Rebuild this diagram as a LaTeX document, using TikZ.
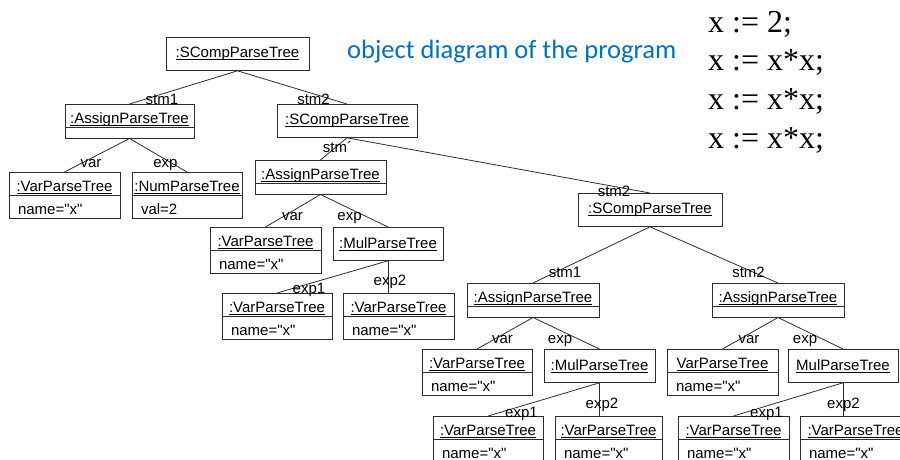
\documentclass[tikz,border=0pt]{standalone}
\usepackage{fontspec}
\usetikzlibrary{shapes.multipart}
\newfontfamily\umlfont{Liberation Sans}
\newfontfamily\notefont{Carlito}
\newfontfamily\codefont{Liberation Serif}
\definecolor{notblue}{RGB}{0,112,192}
\definecolor{umlline}{RGB}{45,45,45}
\newcommand{\objname}[1]{\setbox0\hbox{#1}\rlap{\rule[-1.8pt]{\wd0}{0.6pt}}\box0}
\newcommand{\hdstrut}{\rule[-3pt]{0pt}{22pt}}
\tikzset{
  obj/.style={draw=umlline,line width=0.8pt,inner xsep=2pt,inner ysep=0pt,minimum width=#1,anchor=north,font=\umlfont\fontsize{15}{18}\selectfont},
  objone/.style={obj=#1,minimum height=33pt},
  objtwo/.style={obj=#1,rectangle split,rectangle split parts=2,rectangle split part align={center,left},
    rectangle split empty part height=10pt,rectangle split empty part depth=0pt},
  lnk/.style={draw=umlline,line width=0.8pt},
  rl/.style={font=\umlfont\fontsize{15}{18}\selectfont,inner sep=0pt,anchor=base,pos=1},
  code/.style={font=\codefont\fontsize{32}{38}\selectfont,inner sep=0pt,anchor=base west}
}

\begin{document}
\begin{tikzpicture}[x=1pt,y=-1pt]
  \useasboundingbox (0,0) rectangle (900,459);
  \clip (0,0) rectangle (900,459);
  % caption and program
  \node[anchor=base west,inner sep=0pt,text=notblue,font=\notefont\fontsize{26.5}{30}\selectfont] (caption) at (347,58) {object diagram of the program};
  \node[code] (prog0) at (708,32) {x := 2;};
  \foreach \i in {1,2,3}
    \node[code] (prog\i) at (708,32+38.7*\i) {x := x*x;};

  % objects
  \node[objone=143pt] (root) at (237.5,37) {\objname{:SCompParseTree}};
  \node[objtwo=129pt] (a1) at (129.5,104) {\hdstrut\objname{:AssignParseTree}};
  \node[objone=140pt] (s2) at (347,104) {\objname{:SCompParseTree}};
  \node[objtwo=111pt] (v1) at (64.5,172) {\hdstrut\objname{:VarParseTree}\nodepart{two}\hdstrut\hspace{7pt}name="x"};
  \node[objtwo=110pt] (n1) at (187,172) {\hdstrut\objname{:NumParseTree}\nodepart{two}\hdstrut\hspace{7pt}val=2};
  \node[objtwo=131pt] (a2) at (320.5,160) {\hdstrut\objname{:AssignParseTree}};
  \node[objtwo=111pt] (v2) at (265.5,227) {\hdstrut\objname{:VarParseTree}\nodepart{two}\hdstrut\hspace{7pt}name="x"};
  \node[objone=110pt] (m1) at (388,227) {\objname{:MulParseTree}};
  \node[objtwo=110pt] (v3) at (277,293) {\hdstrut\objname{:VarParseTree}\nodepart{two}\hdstrut\hspace{7pt}name="x"};
  \node[objtwo=111pt] (v4) at (398.5,293) {\hdstrut\objname{:VarParseTree}\nodepart{two}\hdstrut\hspace{7pt}name="x"};
  \node[objone=144pt] (s3) at (650,193) {\objname{:SCompParseTree}};
  \node[objtwo=132pt] (a3) at (533,283) {\hdstrut\objname{:AssignParseTree}};
  \node[objtwo=132pt] (a4) at (778,283) {\hdstrut\objname{:AssignParseTree}};
  \node[objtwo=110pt] (v5) at (477,349) {\hdstrut\objname{:VarParseTree}\nodepart{two}\hdstrut\hspace{7pt}name="x"};
  \node[objone=111pt] (m2) at (599.5,349) {\objname{:MulParseTree}};
  \node[objtwo=111pt] (v6) at (722.5,349) {\hdstrut\objname{VarParseTree}\nodepart{two}\hdstrut\hspace{7pt}name="x"};
  \node[objone=110pt] (m3) at (843,349) {\objname{MulParseTree}};
  \node[objtwo=110pt] (v7) at (488,416) {\hdstrut\objname{:VarParseTree}\nodepart{two}\hdstrut\hspace{7pt}name="x"};
  \node[objtwo=107pt] (v8) at (608.5,416) {\hdstrut\objname{:VarParseTree}\nodepart{two}\hdstrut\hspace{7pt}name="x"};
  \node[objtwo=111pt] (v9) at (733.5,416) {\hdstrut\objname{:VarParseTree}\nodepart{two}\hdstrut\hspace{7pt}name="x"};
  \node[objtwo=111pt] (v10) at (855.5,416) {\hdstrut\objname{:VarParseTree}\nodepart{two}\hdstrut\hspace{7pt}name="x"};

  % links
  \draw[lnk] (root.south) -- node[rl,xshift=32.5pt] {stm1} (a1.north);
  \draw[lnk] (root.south) -- node[rl,xshift=-33.5pt] {stm2} (s2.north);
  \draw[lnk] (a1.south) -- node[rl,xshift=26.5pt,yshift=5pt] {var} (v1.north);
  \draw[lnk] (a1.south) -- node[rl,xshift=-21.5pt,yshift=5pt] {exp} (n1.north);
  \draw[lnk] (s2.south) -- node[rl,xshift=17pt,yshift=8pt] {stm´} (a2.north);
  \draw[lnk] (s2.south) -- node[rl,xshift=-36pt,yshift=-3pt] {stm2} (s3.north);
  \draw[lnk] (a2.south) -- node[rl,xshift=27pt,yshift=7pt] {var} (v2.north);
  \draw[lnk] (a2.south) -- node[rl,xshift=-38.5pt,yshift=7pt] {exp} (m1.north);
  \draw[lnk] (m1.south) -- node[rl,xshift=32pt] {exp1} (v3.north);
  \draw[lnk] (m1.south) -- node[rl,xshift=2pt,yshift=8pt] {exp2} (m1.south |- v4.north);
  \draw[lnk] (s3.south) -- node[rl,xshift=32pt,yshift=6pt] {stm1} (a3.north);
  \draw[lnk] (s3.south) -- node[rl,xshift=-29.5pt,yshift=6pt] {stm2} (a4.north);
  \draw[lnk] (a3.south) -- node[rl,xshift=25.5pt,yshift=6pt] {var} (v5.north);
  \draw[lnk] (a3.south) -- node[rl,xshift=-39.5pt,yshift=6pt] {exp} (m2.north);
  \draw[lnk] (a4.south) -- node[rl,xshift=26.5pt,yshift=6pt] {var} (v6.north);
  \draw[lnk] (a4.south) -- node[rl,xshift=-38pt,yshift=6pt] {exp} (m3.north);
  \draw[lnk] (m2.south) -- node[rl,xshift=33.5pt,yshift=-1pt] {exp1} (v7.north);
  \draw[lnk] (m2.south) -- node[rl,xshift=2.5pt,yshift=8pt] {exp2} (m2.south |- v8.north);
  \draw[lnk] (m3.south) -- node[rl,xshift=33pt,yshift=-1pt] {exp1} (v9.north);
  \draw[lnk] (m3.south) -- node[rl,xshift=0.5pt,yshift=8pt] {exp2} (m3.south |- v10.north);
\end{tikzpicture}
\end{document}
